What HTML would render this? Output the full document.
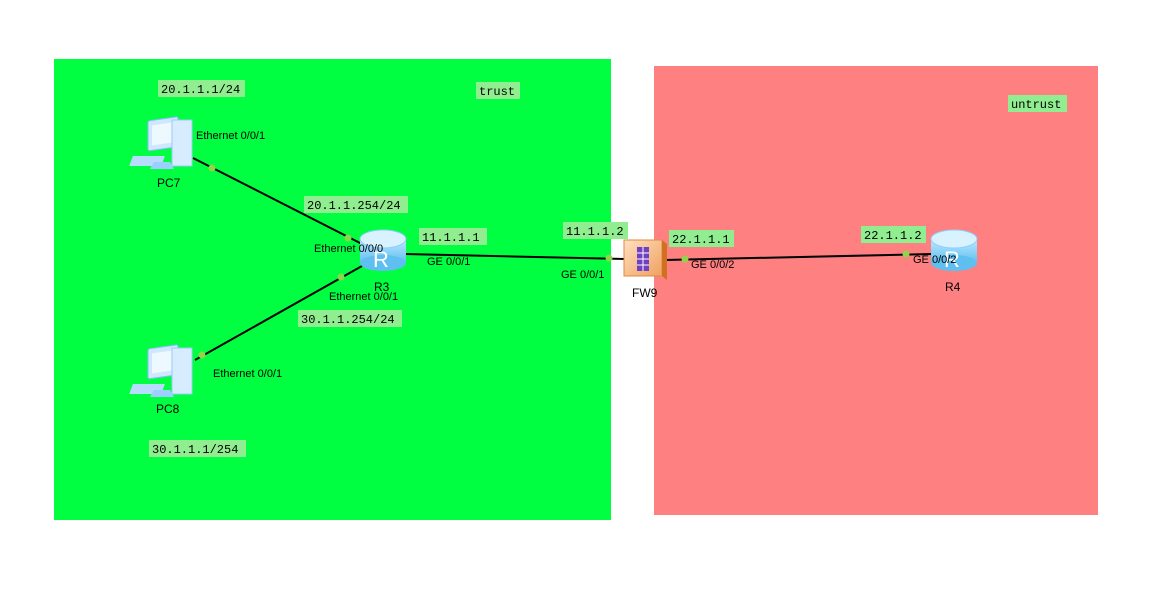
<!DOCTYPE html>
<html><head><meta charset="utf-8"><style>
html,body{margin:0;padding:0;background:#fff;width:1166px;height:613px;overflow:hidden}
svg text{font-family:"Liberation Sans",sans-serif;font-size:11px;fill:#000}
.m{font-family:"Liberation Mono",monospace;font-size:12px}
</style></head><body>
<svg width="1166" height="613" viewBox="0 0 1166 613" xmlns="http://www.w3.org/2000/svg">
<defs>
<linearGradient id="rg" x1="0" y1="0" x2="0" y2="1"><stop offset="0" stop-color="#bfe8ff"/><stop offset="1" stop-color="#5fbff0"/></linearGradient>
<linearGradient id="fg" x1="0" y1="0" x2="1" y2="1"><stop offset="0" stop-color="#ffe0c0"/><stop offset="1" stop-color="#f0a060"/></linearGradient>
<g id="pc">
<rect x="8" y="2" width="30" height="30" rx="2" fill="#cfe8ff" stroke="#88bbff" transform="skewY(-8)"/>
<rect x="12" y="7" width="22" height="20" fill="#eef8ff" transform="skewY(-8)"/>
<rect x="32" y="0" width="20" height="46" fill="#d8ecff" stroke="#9cc8ff"/>
<rect x="6" y="36" width="32" height="10" fill="#b8dcff" transform="skewX(-20)"/>
<polygon points="14,42 30,42 34,49 10,49" fill="#9ccfff"/>
</g>
<g id="rt">
<rect x="0" y="10" width="46" height="24" fill="url(#rg)"/>
<ellipse cx="23" cy="34" rx="23" ry="8" fill="#5fbff0"/>
<ellipse cx="23" cy="10" rx="23" ry="9" fill="#d8f2ff" stroke="#8ccfff"/>
<text x="13" y="38" style="font-size:22px;fill:#fff">R</text>
</g>
</defs>
<rect x="54" y="59" width="557" height="461" fill="#00ff40"/>
<rect x="654" y="66" width="444" height="449" fill="#ff8080"/>

<g fill="#90ee90">
<rect x="158" y="80" width="87" height="17"/>
<rect x="476" y="82" width="44" height="17"/>
<rect x="1008" y="95" width="59" height="17"/>
<rect x="304" y="196" width="104" height="17"/>
<rect x="419" y="228" width="68" height="17"/>
<rect x="563" y="222" width="65" height="17"/>
<rect x="669" y="230" width="65" height="17"/>
<rect x="861" y="226" width="65" height="17"/>
<rect x="298" y="310" width="104" height="17"/>
<rect x="149" y="440" width="97" height="17"/>
</g>
<text class="m" x="161" y="93">20.1.1.1/24</text>
<text class="m" x="479" y="95">trust</text>
<text class="m" x="1011" y="108">untrust</text>
<text class="m" x="307" y="209">20.1.1.254/24</text>
<text class="m" x="422" y="241">11.1.1.1</text>
<text class="m" x="566" y="235">11.1.1.2</text>
<text class="m" x="672" y="243">22.1.1.1</text>
<text class="m" x="864" y="239">22.1.1.2</text>
<text class="m" x="301" y="323">30.1.1.254/24</text>
<text class="m" x="152" y="453">30.1.1.1/254</text>

<g stroke="#000" stroke-width="2">
<line x1="193" y1="158" x2="362" y2="244"/>
<line x1="195" y1="360" x2="362" y2="266"/>
<line x1="405" y1="254" x2="625" y2="259"/>
<line x1="665" y1="260" x2="932" y2="254"/>
</g>
<g fill="#8fd44a">
<circle cx="212" cy="168" r="3.5"/><circle cx="348" cy="238" r="3.5"/>
<circle cx="202" cy="355" r="3.5"/><circle cx="341" cy="277" r="3.5"/>
<circle cx="609" cy="258" r="3.5"/><circle cx="685" cy="259" r="3.5"/>
<circle cx="906" cy="254" r="3.5"/>
</g>

<use href="#pc" x="140" y="120"/>
<use href="#pc" x="140" y="348"/>
<use href="#rt" x="360" y="229"/>
<use href="#rt" x="931" y="229"/>
<g>
<rect x="624" y="240" width="38" height="36" fill="url(#fg)" stroke="#e08a40"/>
<polygon points="662,240 667,244 667,280 662,276" fill="#d07020"/>
<rect x="637" y="247" width="12" height="24" fill="#7040c0"/>
<g stroke="#fff" stroke-width="1"><line x1="637" y1="253" x2="649" y2="253"/><line x1="637" y1="259" x2="649" y2="259"/><line x1="637" y1="265" x2="649" y2="265"/><line x1="643" y1="247" x2="643" y2="271"/></g>
</g>

<text x="157" y="187" style="font-size:12px">PC7</text>
<text x="156" y="413" style="font-size:12px">PC8</text>
<text x="374" y="291" style="font-size:12px">R3</text>
<text x="632" y="297" style="font-size:12px">FW9</text>
<text x="945" y="291" style="font-size:12px">R4</text>

<text x="196" y="139">Ethernet 0/0/1</text>
<text x="314" y="252">Ethernet 0/0/0</text>
<text x="329" y="300">Ethernet 0/0/1</text>
<text x="213" y="377">Ethernet 0/0/1</text>
<text x="427" y="265">GE 0/0/1</text>
<text x="561" y="278">GE 0/0/1</text>
<text x="691" y="268">GE 0/0/2</text>
<text x="913" y="263">GE 0/0/2</text>
</svg>
</body></html>
